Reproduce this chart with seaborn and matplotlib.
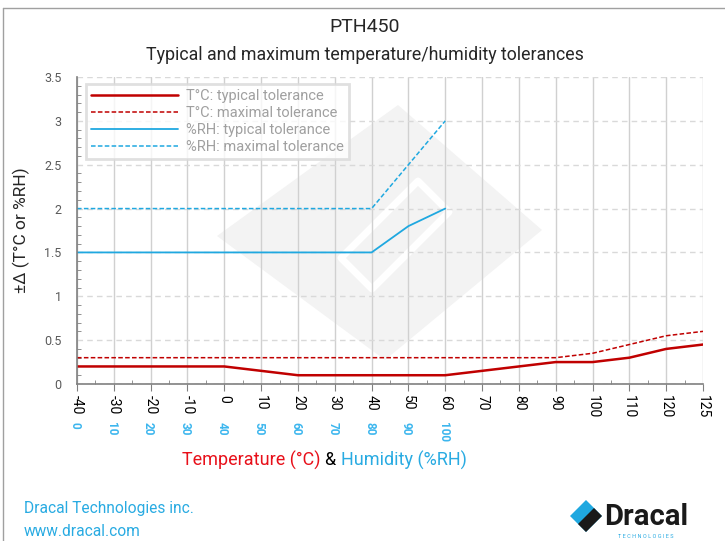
import numpy as np
import pandas as pd
import matplotlib
matplotlib.use("Agg")
import matplotlib.pyplot as plt
from matplotlib.patches import Polygon
from matplotlib.ticker import MultipleLocator, FixedLocator
import seaborn as sns

# data
temp_labels = ["-40", "-30", "-20", "-10", "0", "10", "20", "30", "40", "50",
               "60", "70", "80", "90", "100", "110", "120", "125"]
humidity_labels = ["0", "10", "20", "30", "40", "50", "60", "70", "80", "90", "100"]
t_typical = [0.2, 0.2, 0.2, 0.2, 0.2, 0.15, 0.1, 0.1, 0.1, 0.1,
             0.1, 0.15, 0.2, 0.25, 0.25, 0.3, 0.4, 0.45]
t_maximal = [0.3, 0.3, 0.3, 0.3, 0.3, 0.3, 0.3, 0.3, 0.3, 0.3,
             0.3, 0.3, 0.3, 0.3, 0.35, 0.45, 0.55, 0.6]
rh_typical = [1.5, 1.5, 1.5, 1.5, 1.5, 1.5, 1.5, 1.5, 1.5, 1.8, 2.0]
rh_maximal = [2.0, 2.0, 2.0, 2.0, 2.0, 2.0, 2.0, 2.0, 2.0, 2.5, 3.0]
y_ticks = [0, 0.5, 1, 1.5, 2, 2.5, 3, 3.5]
y_ticklabels = ["0", "0.5", "1", "1.5", "2", "2.5", "3", "3.5"]

RED = "#c00000"
BLUE = "#1fa8e0"
LBLUE = "#3cb6ee"
GREY_TXT = "#595959"

sns.set_style("white")
plt.rcParams["font.family"] = ["Roboto", "DejaVu Sans"]

fig = plt.figure(figsize=(7.25, 5.41), dpi=100)
ax = fig.add_axes([77 / 725, 1 - 384 / 541, 626 / 725, 307 / 541])


def px(x, y):
    return (x / 725, 1 - y / 541)


# light watermark behind the plot
ax.set_zorder(1)
ax.patch.set_alpha(0)
fig.patches.append(Polygon([px(398, 105), px(542, 230), px(385, 360), px(217, 236)],
                           closed=True, transform=fig.transFigure,
                           facecolor="#f3f3f3", edgecolor="none", zorder=0))
fig.patches.append(Polygon([px(449, 212), px(418, 181), px(341, 258), px(372, 289)],
                           closed=True, transform=fig.transFigure,
                           facecolor="none", edgecolor="white", lw=5,
                           joinstyle="round", zorder=0.5))

pos_t = np.arange(len(temp_labels))
pos_h = np.arange(len(humidity_labels))

sns.lineplot(x=pos_t, y=t_typical, ax=ax, color=RED, lw=1.8,
             label="T°C: typical tolerance")
sns.lineplot(x=pos_t, y=t_maximal, ax=ax, color=RED, lw=1.1,
             linestyle=(0, (3, 1.5)), label="T°C: maximal tolerance")
sns.lineplot(x=pos_h, y=rh_typical, ax=ax, color=BLUE, lw=1.3,
             label="%RH: typical tolerance")
sns.lineplot(x=pos_h, y=rh_maximal, ax=ax, color=BLUE, lw=1.1,
             linestyle=(0, (3, 1.5)), label="%RH: maximal tolerance")

ax.set_xlim(0, len(temp_labels) - 1)
ax.set_ylim(0, 3.5)

ax.xaxis.set_major_locator(FixedLocator(pos_t))
ax.xaxis.set_minor_locator(FixedLocator(pos_t[:-1] + 0.5))
ax.set_xticklabels(temp_labels, rotation=270, fontsize=10, color="black")
ax.set_yticks(y_ticks)
ax.set_yticklabels(y_ticklabels)
ax.yaxis.set_minor_locator(MultipleLocator(0.1))
ax.tick_params(axis="y", which="major", direction="out", length=5,
               color="#808080", labelsize=9, labelcolor=GREY_TXT, pad=6)
ax.tick_params(axis="y", which="minor", direction="in", length=3,
               color="#808080", left=True)
ax.tick_params(axis="x", which="major", direction="out", length=5,
               color="#808080", pad=3, bottom=True)
ax.tick_params(axis="x", which="minor", direction="in", length=3,
               color="#808080", bottom=True)

ax.grid(axis="x", which="major", color="#d0d0d0", lw=1, linestyle="-")
ax.grid(axis="y", which="major", color="#d9d9d9", lw=1, linestyle=(0, (4, 3)))
for s in ["top", "right"]:
    ax.spines[s].set_visible(False)
for s in ["left", "bottom"]:
    ax.spines[s].set_color("#808080")
    ax.spines[s].set_linewidth(1.2)

# humidity scale under the temperature labels
for p, lab in zip(pos_h, humidity_labels):
    ax.annotate(lab, xy=(p, 0), xycoords=("data", "axes fraction"),
                xytext=(-1.5, -27), textcoords="offset points",
                rotation=270, ha="center", va="top", fontsize=8.5,
                fontweight="bold", color=LBLUE)

leg = ax.legend(loc="upper left", bbox_to_anchor=(0.014, 0.978), fontsize=10.5,
                frameon=True, fancybox=False, edgecolor="#d9d9d9",
                handlelength=6.0, handletextpad=0.5, labelspacing=0.2,
                borderpad=0.35, borderaxespad=0)
leg.get_frame().set_linewidth(2)
for t in leg.get_texts():
    t.set_color("#a0a0a0")

ax.set_ylabel("±Δ (T°C or %RH)", fontsize=12.5, labelpad=10)

fig.text(*px(365, 27), "PTH450", ha="center", va="center", fontsize=14)
fig.text(*px(365, 55), "Typical and maximum temperature/humidity tolerances",
         ha="center", va="center", fontsize=12.8)

# axis title in three colours
fig.text(*px(320, 460), "Temperature (°C)", color="#e8101a",
         ha="right", va="center", fontsize=13)
fig.text(*px(330, 460), "&", color="black", ha="center", va="center", fontsize=13)
fig.text(*px(341, 460), "Humidity (%RH)", color="#29abe2",
         ha="left", va="center", fontsize=13)

# footer
fig.text(*px(24, 508), "Dracal Technologies inc.", color="#29abe2",
         ha="left", va="center", fontsize=11.2)
fig.text(*px(24, 532), "www.dracal.com", color="#29abe2",
         ha="left", va="center", fontsize=11.2)

# logo
fig.patches.append(Polygon([px(586, 500), px(602, 516), px(586, 532), px(570, 516)],
                           transform=fig.transFigure, facecolor="#1fa8e0",
                           edgecolor="none"))
fig.patches.append(Polygon([px(594, 508), px(602, 516), px(586, 532), px(578, 524)],
                           transform=fig.transFigure, facecolor="#1a1a1a",
                           edgecolor="none"))
fig.text(*px(604, 517), "Dracal", color="#1a1a1a", ha="left", va="center",
         fontsize=21, fontweight="bold")
fig.text(*px(618, 536), "T E C H N O L O G I E S", color="#29abe2",
         ha="left", va="center", fontsize=4)

# thin frame at the top-left edges
fig.add_artist(plt.Line2D([3 / 725, 3 / 725], [0, 1 - 8 / 541], color="#a0a0a0", lw=1))
fig.add_artist(plt.Line2D([3 / 725, 1], [1 - 8 / 541, 1 - 8 / 541], color="#a0a0a0", lw=1))

fig.savefig("out.png", dpi=100)
